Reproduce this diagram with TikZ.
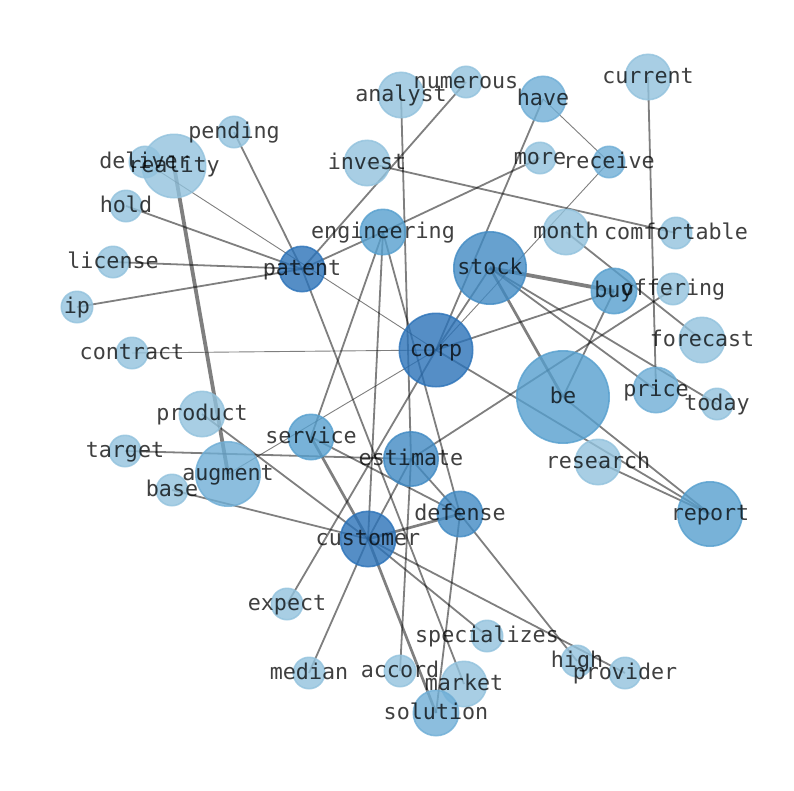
\documentclass[tikz,border=0pt]{standalone}
\usepackage{fontspec}
\setmonofont{DejaVu Sans Mono}
\pgfdeclarelayer{edges}
\pgfdeclarelayer{labels}
\pgfsetlayers{edges,main,labels}
\definecolor{t1}{RGB}{146,194,221}
\definecolor{t2}{RGB}{111,174,214}
\definecolor{t3}{RGB}{86,159,206}
\definecolor{t4}{RGB}{65,138,195}
\definecolor{t5}{RGB}{43,114,184}
\tikzset{
  vtx/.style={circle, inner sep=0pt, line width=1.6pt, fill opacity=0.8, draw opacity=0.8},
  vs/.style={minimum size=31.4pt},
  vm/.style={minimum size=45.4pt},
  c1/.style={fill=t1, draw=t1},
  c2/.style={fill=t2, draw=t2},
  c3/.style={fill=t3, draw=t3},
  c4/.style={fill=t4, draw=t4},
  c5/.style={fill=t5, draw=t5},
  ed/.style={draw=black, draw opacity=0.5, line width=1.8pt},
  edthin/.style={draw=black, draw opacity=0.5, line width=0.9pt},
  edmid/.style={draw=black, draw opacity=0.5, line width=2.7pt},
  edthick/.style={draw=black, draw opacity=0.5, line width=3.8pt},
  lbl/.style={font=\ttfamily\fontsize{21.7}{26}\selectfont, text=black, text opacity=0.75,
    inner sep=0pt, text height=18.5pt, text depth=5pt, anchor=center}
}
\begin{document}
\begin{tikzpicture}[x=1pt,y=-1pt]
\useasboundingbox (0,0) rectangle (794,790);
% nodes
\node[vtx,vm,c1] (analyst) at (401,95) {};
\node[vtx,vs,c1] (numerous) at (466,82) {};
\node[vtx,vm,c2] (have) at (543,99) {};
\node[vtx,vm,c1] (current) at (648,77) {};
\node[vtx,vs,c1] (pending) at (234,132) {};
\node[vtx,minimum size=63.4pt,c1] (reality) at (174,166) {};
\node[vtx,vs,c1] (deliver) at (145,162) {};
\node[vtx,vm,c1] (invest) at (367,163) {};
\node[vtx,vs,c1] (more) at (540,158) {};
\node[vtx,vs,c2] (receive) at (609,162) {};
\node[vtx,vs,c1] (hold) at (126,206) {};
\node[vtx,vm,c3] (engineering) at (383,232) {};
\node[vtx,vm,c1] (month) at (566,232) {};
\node[vtx,vs,c1] (comfortable) at (676,233) {};
\node[vtx,minimum size=72.4pt,c4] (stock) at (490,268) {};
\node[vtx,vs,c1] (license) at (113,262) {};
\node[vtx,vm,c5] (patent) at (302,269) {};
\node[vtx,vm,c3] (buy) at (614,291) {};
\node[vtx,vs,c1] (offering) at (673,289) {};
\node[vtx,vs,c1] (ip) at (77,307) {};
\node[vtx,vm,c1] (forecast) at (702,340) {};
\node[vtx,vs,c1] (contract) at (132,353) {};
\node[vtx,minimum size=73.4pt,c5] (corp) at (436,350) {};
\node[vtx,minimum size=92.4pt,c3] (be) at (563,397) {};
\node[vtx,vm,c2] (price) at (656,390) {};
\node[vtx,vs,c1] (today) at (717,404) {};
\node[vtx,vm,c1] (product) at (202,414) {};
\node[vtx,vm,c3] (service) at (311,437) {};
\node[vtx,vs,c1] (target) at (125,451) {};
\node[vtx,minimum size=64.4pt,c2] (augment) at (228,474) {};
\node[vtx,minimum size=54.4pt,c4] (estimate) at (411,459) {};
\node[vtx,vm,c1] (research) at (598,462) {};
\node[vtx,vs,c1] (base) at (172,490) {};
\node[vtx,vm,c4] (defense) at (460,514) {};
\node[vtx,minimum size=64.4pt,c3] (report) at (710,514) {};
\node[vtx,minimum size=55.4pt,c5] (customer) at (368,539) {};
\node[vtx,vs,c1] (expect) at (287,604) {};
\node[vtx,vs,c1] (specializes) at (487,636) {};
\node[vtx,vs,c1] (high) at (577,661) {};
\node[vtx,vs,c1] (provider) at (625,673) {};
\node[vtx,vs,c1] (median) at (309,673) {};
\node[vtx,vs,c1] (accord) at (400,671) {};
\node[vtx,vm,c1] (market) at (464,684) {};
\node[vtx,vm,c2] (solution) at (436,713) {};
% edges
\begin{pgfonlayer}{edges}
\draw[ed] (pending.center) -- (patent.center);
\draw[ed] (patent.center) -- (market.center);
\draw[ed] (hold.center) -- (patent.center);
\draw[ed] (license.center) -- (patent.center);
\draw[ed] (ip.center) -- (patent.center);
\draw[ed] (patent.center) -- (numerous.center);
\draw[ed] (patent.center) -- (engineering.center);
\draw[ed] (more.center) -- (engineering.center);
\draw[ed] (engineering.center) -- (service.center);
\draw[ed] (engineering.center) -- (customer.center);
\draw[ed] (engineering.center) -- (defense.center);
\draw[ed] (invest.center) -- (comfortable.center);
\draw[ed] (analyst.center) -- (estimate.center);
\draw[ed] (estimate.center) -- (accord.center);
\draw[ed] (have.center) -- (corp.center);
\draw[ed] (stock.center) -- (corp.center);
\draw[ed] (buy.center) -- (corp.center);
\draw[ed] (corp.center) -- (report.center);
\draw[ed] (corp.center) -- (expect.center);
\draw[ed] (current.center) -- (price.center);
\draw[ed] (month.center) -- (forecast.center);
\draw[ed] (stock.center) -- (price.center);
\draw[ed] (stock.center) -- (today.center);
\draw[ed] (buy.center) -- (be.center);
\draw[ed] (be.center) -- (report.center);
\draw[ed] (research.center) -- (report.center);
\draw[ed] (offering.center) -- (estimate.center);
\draw[ed] (target.center) -- (estimate.center);
\draw[ed] (product.center) -- (customer.center);
\draw[ed] (base.center) -- (customer.center);
\draw[ed] (service.center) -- (defense.center);
\draw[ed] (estimate.center) -- (customer.center);
\draw[ed] (estimate.center) -- (defense.center);
\draw[ed] (defense.center) -- (high.center);
\draw[ed] (defense.center) -- (solution.center);
\draw[ed] (customer.center) -- (median.center);
\draw[ed] (customer.center) -- (specializes.center);
\draw[ed] (customer.center) -- (provider.center);
\draw[edthin] (deliver.center) -- (corp.center);
\draw[edthin] (have.center) -- (receive.center);
\draw[edthin] (receive.center) -- (corp.center);
\draw[edthin] (augment.center) -- (corp.center);
\draw[edthin] (contract.center) -- (corp.center);
\draw[edthick] (reality.center) -- (augment.center);
\draw[edthick] (stock.center) -- (buy.center);
\draw[edmid] (stock.center) -- (be.center);
\draw[edmid] (service.center) -- (customer.center);
\draw[edmid] (customer.center) -- (solution.center);
\draw[edmid] (customer.center) -- (defense.center);
\end{pgfonlayer}
% labels
\begin{pgfonlayer}{labels}
\node[lbl] (l-analyst) at (analyst) {analyst};
\node[lbl] (l-numerous) at (numerous) {numerous};
\node[lbl] (l-have) at (have) {have};
\node[lbl] (l-current) at (current) {current};
\node[lbl] (l-pending) at (pending) {pending};
\node[lbl] (l-reality) at (reality) {reality};
\node[lbl] (l-deliver) at (deliver) {deliver};
\node[lbl] (l-invest) at (invest) {invest};
\node[lbl] (l-more) at (more) {more};
\node[lbl] (l-receive) at (receive) {receive};
\node[lbl] (l-hold) at (hold) {hold};
\node[lbl] (l-engineering) at (engineering) {engineering};
\node[lbl] (l-month) at (month) {month};
\node[lbl] (l-comfortable) at (comfortable) {comfortable};
\node[lbl] (l-stock) at (stock) {stock};
\node[lbl] (l-license) at (license) {license};
\node[lbl] (l-patent) at (patent) {patent};
\node[lbl] (l-buy) at (buy) {buy};
\node[lbl] (l-offering) at (offering) {offering};
\node[lbl] (l-ip) at (ip) {ip};
\node[lbl] (l-forecast) at (forecast) {forecast};
\node[lbl] (l-contract) at (contract) {contract};
\node[lbl] (l-corp) at (corp) {corp};
\node[lbl] (l-be) at (be) {be};
\node[lbl] (l-price) at (price) {price};
\node[lbl] (l-today) at (today) {today};
\node[lbl] (l-product) at (product) {product};
\node[lbl] (l-service) at (service) {service};
\node[lbl] (l-target) at (target) {target};
\node[lbl] (l-augment) at (augment) {augment};
\node[lbl] (l-estimate) at (estimate) {estimate};
\node[lbl] (l-research) at (research) {research};
\node[lbl] (l-base) at (base) {base};
\node[lbl] (l-defense) at (defense) {defense};
\node[lbl] (l-report) at (report) {report};
\node[lbl] (l-customer) at (customer) {customer};
\node[lbl] (l-expect) at (expect) {expect};
\node[lbl] (l-specializes) at (specializes) {specializes};
\node[lbl] (l-high) at (high) {high};
\node[lbl] (l-provider) at (provider) {provider};
\node[lbl] (l-median) at (median) {median};
\node[lbl] (l-accord) at (accord) {accord};
\node[lbl] (l-market) at (market) {market};
\node[lbl] (l-solution) at (solution) {solution};
\end{pgfonlayer}
\end{tikzpicture}
\end{document}
